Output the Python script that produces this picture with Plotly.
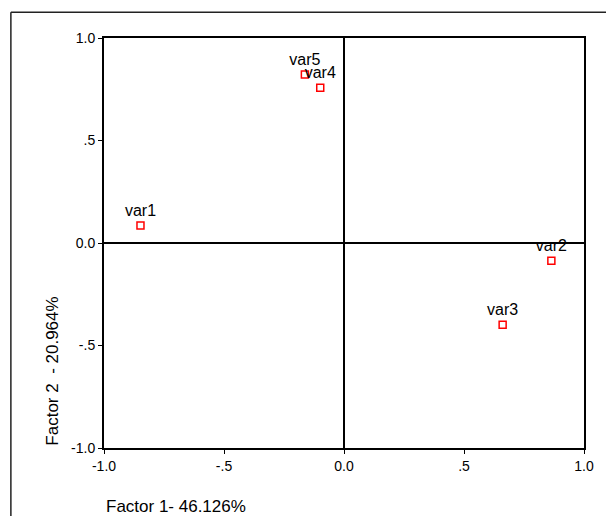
import plotly.graph_objects as go

names = ["var1", "var2", "var3", "var4", "var5"]
factor1 = [-0.848, 0.864, 0.661, -0.099, -0.163]
factor2 = [0.085, -0.087, -0.399, 0.757, 0.822]
tick_vals = [-1.0, -0.5, 0.0, 0.5, 1.0]
tick_text = ["-1.0", "-.5", "0.0", ".5", "1.0"]

FONT = "Liberation Sans, Arial, sans-serif"

fig = go.Figure()
fig.add_trace(go.Scatter(
    x=factor1, y=factor2, mode="markers+text", text=names,
    textposition="top center",
    textfont=dict(family=FONT, size=16, color="black"),
    marker=dict(symbol="square-open", size=7, color="red", line=dict(width=1.5, color="red")),
    cliponaxis=False, showlegend=False, hoverinfo="text",
))

axis_common = dict(
    range=[-1, 1], tickvals=tick_vals, ticktext=tick_text,
    showgrid=False, zeroline=True, zerolinecolor="black", zerolinewidth=1.5,
    showline=True, linecolor="black", linewidth=2, mirror=True,
    ticks="outside", ticklen=4, tickwidth=1, tickcolor="black",
    tickfont=dict(family=FONT, size=14, color="black"),
)
fig.update_xaxes(**axis_common)
fig.update_yaxes(**axis_common)

fig.add_annotation(text="Factor 1- 46.126%", xref="paper", yref="paper",
                   x=0, y=-0.143, xanchor="left", yanchor="middle", showarrow=False,
                   font=dict(family=FONT, size=17, color="black"))
fig.add_annotation(text="Factor 2  - 20.964%", xref="paper", yref="paper",
                   x=-0.108, y=0, xanchor="center", yanchor="bottom", textangle=-90,
                   showarrow=False, font=dict(family=FONT, size=17, color="black"))

# outer frame (top and left edges visible, the rest runs off the picture)
fig.add_shape(type="line", xref="paper", yref="paper",
              x0=-0.194, y0=1.063, x1=1.2, y1=1.063,
              line=dict(color="#222", width=1.5), layer="below")
fig.add_shape(type="line", xref="paper", yref="paper",
              x0=-0.194, y0=1.063, x1=-0.194, y1=-0.3,
              line=dict(color="#222", width=1.5), layer="below")

fig.update_layout(
    width=598, height=508,
    margin=dict(l=96, r=12, t=30, b=68),
    plot_bgcolor="white", paper_bgcolor="white",
    font=dict(family=FONT, color="black"),
)
fig.write_html("out.html")
